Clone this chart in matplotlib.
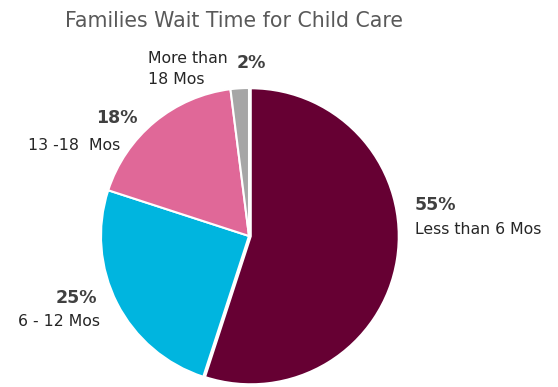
import matplotlib.pyplot as plt

categories = ['Less than 6 Mos', '6 - 12 Mos', '13 -18  Mos', 'More than\n18 Mos']
values = [55, 25, 18, 2]
colors = ['#660033', '#00B5DF', '#E06898', '#A6A6A6']

W, H = 558, 387
fig = plt.figure(figsize=(W / 100, H / 100), dpi=100)

# pie centre (249, 236) px, radius 148 px
cx, cy, r = 249, 236, 148
ax = fig.add_axes([(cx - r) / W, (H - cy - r) / H, 2 * r / W, 2 * r / H])
ax.pie(values, colors=colors, startangle=90, counterclock=False,
       explode=[0.012, 0, 0, 0],
       wedgeprops=dict(edgecolor='white', linewidth=1.5))
ax.set_xlim(-1, 1)
ax.set_ylim(-1, 1)
ax.set_aspect('equal')
ax.axis('off')

fig.text(234 / W, 1 - 21 / H, 'Families Wait Time for Child Care',
         ha='center', va='center', fontsize=14.8, color='#595959')

def px(x, y):
    return x / W, 1 - y / H

# (pct position, pct align, label position, label align)
places = [
    ((415, 205), 'left', (415, 230), 'left'),
    ((97, 298), 'right', (100, 322), 'right'),
    ((138, 118), 'right', (120, 146), 'right'),
    ((237, 63), 'left', (148, 69), 'left'),
]
for v, cat, (pp, pa, lp, la) in zip(values, categories, places):
    fig.text(*px(*pp), f'{v}%', ha=pa, va='center', fontsize=12.5,
             fontweight='bold', color='#404040')
    fig.text(*px(*lp), cat, ha=la, va='center', fontsize=11.3,
             color='#262626', linespacing=1.5)

fig.savefig('out.png', dpi=100)
